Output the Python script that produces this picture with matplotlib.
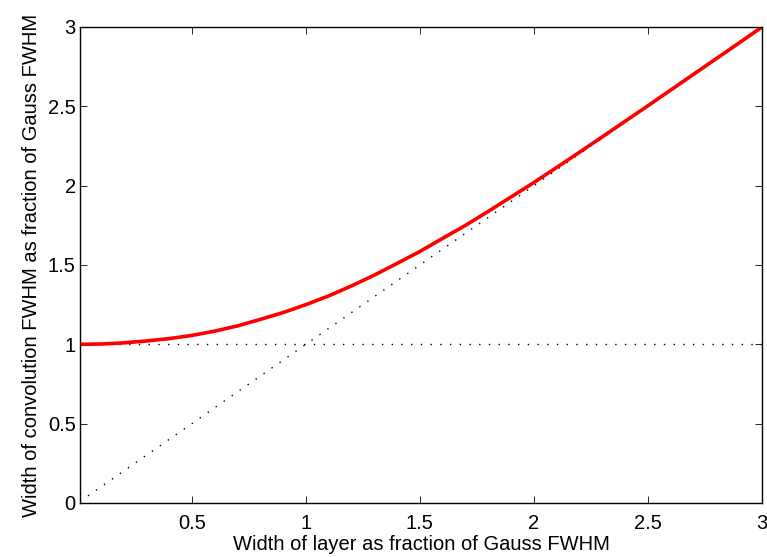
#!/usr/bin/env python3
"""Convolution width of a box layer with a Gaussian, MATLAB-style figure."""

import matplotlib
matplotlib.use("Agg")
import matplotlib.pyplot as plt

plt.rcParams["font.family"] = ["Liberation Sans", "DejaVu Sans"]

# Width of layer (fraction of Gauss FWHM) and FWHM of convolution
layer_width = [0.01, 0.1, 0.2, 0.3, 0.4, 0.5, 0.6, 0.7, 0.8, 0.9, 1.0,
               1.1, 1.2, 1.3, 1.4, 1.5, 1.6, 1.7, 1.8, 1.9, 2.0,
               2.1, 2.2, 2.3, 2.4, 2.5, 2.6, 2.7, 2.8, 2.9, 3.0]
conv_width = [1.000, 1.002, 1.009, 1.021, 1.036, 1.056, 1.083, 1.116, 1.157, 1.200, 1.250,
              1.305, 1.368, 1.436, 1.510, 1.585, 1.668, 1.750, 1.838, 1.929, 2.020,
              2.115, 2.211, 2.308, 2.406, 2.504, 2.603, 2.702, 2.801, 2.900, 3.000]

# Reference lines: Gauss width alone, and layer width alone
ref_x = [0.01, 3.0]
gauss_only = [1.0, 1.0]
layer_only = [0.01, 3.0]

x_ticks = [0.5, 1, 1.5, 2, 2.5, 3]
y_ticks = [0, 0.5, 1, 1.5, 2, 2.5, 3]

FS = 14.5

fig = plt.figure(figsize=(7.67, 5.57), dpi=100, facecolor="white")
ax = fig.add_axes([80 / 767, 1 - 503 / 557, (762 - 80) / 767, (503 - 27) / 557])

ax.plot(ref_x, gauss_only, color="black", linewidth=1.0, dashes=(1, 6))
ax.plot(ref_x, layer_only, color="black", linewidth=1.0, dashes=(1, 6))
ax.plot(layer_width, conv_width, color="#ff0000", linewidth=2.6, solid_capstyle="butt")

ax.set_xlim(0.01, 3)
ax.set_ylim(0, 3)
ax.set_xticks(x_ticks)
ax.set_xticklabels(["0.5", "1", "1.5", "2", "2.5", "3"])
ax.set_yticks(y_ticks)
ax.set_yticklabels(["0", "0.5", "1", "1.5", "2", "2.5", "3"])

ax.tick_params(axis="both", direction="in", length=4.8, width=0.6, labelsize=FS,
               top=True, right=True)
ax.tick_params(axis="x", pad=8)
ax.tick_params(axis="y", pad=3)
for spine in ax.spines.values():
    spine.set_linewidth(1.0)

ax.set_xlabel("Width of layer as fraction of Gauss FWHM", fontsize=FS, labelpad=1)
ax.set_ylabel("Width of convolution FWHM as fraction of Gauss FWHM", fontsize=FS, labelpad=5)

fig.savefig("out.png", dpi=100, facecolor="white")
plt.close(fig)
